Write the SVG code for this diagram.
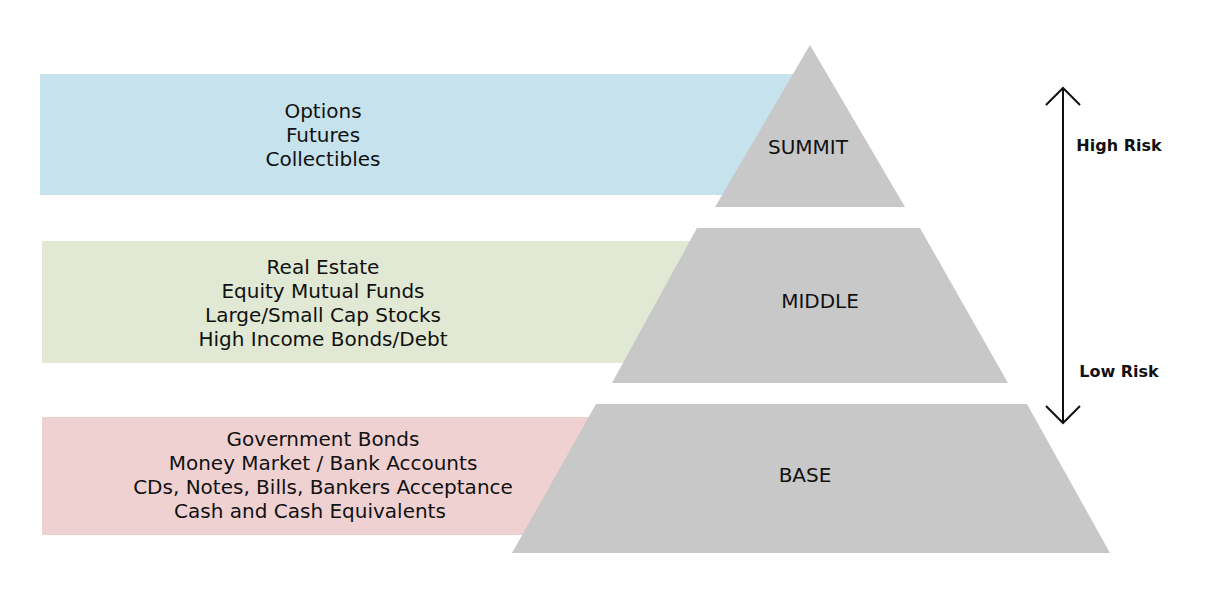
<svg xmlns="http://www.w3.org/2000/svg" width="1206" height="600" viewBox="0 0 1206 600">
<style>
.t{font-family:"DejaVu Sans","Liberation Sans",sans-serif;font-size:20px;fill:#111;text-anchor:middle}
.b{font-family:"DejaVu Sans","Liberation Sans",sans-serif;font-size:16px;font-weight:bold;fill:#111;text-anchor:middle}
.p{fill:#c8c8c8}
</style>
<rect width="1206" height="600" fill="#fff"/>
<g id="band-summit"><rect x="40" y="74" width="760" height="121" fill="#c6e2ec"/>
<text class="t" x="323" y="118">Options</text><text class="t" x="323" y="142">Futures</text><text class="t" x="323" y="166">Collectibles</text></g>
<g id="band-middle"><rect x="42" y="241" width="660" height="122" fill="#e1e8d3"/>
<text class="t" x="323" y="274">Real Estate</text><text class="t" x="323" y="298">Equity Mutual Funds</text><text class="t" x="323" y="322">Large/Small Cap Stocks</text><text class="t" x="323" y="346">High Income Bonds/Debt</text></g>
<g id="band-base"><rect x="42" y="417" width="560" height="118" fill="#f0d1d1"/>
<text class="t" x="323" y="446">Government Bonds</text><text class="t" x="323" y="470">Money Market / Bank Accounts</text><text class="t" x="323" y="494">CDs, Notes, Bills, Bankers Acceptance</text><text class="t" x="310" y="518">Cash and Cash Equivalents</text></g>
<g id="summit"><polygon class="p" points="810,45 905,207 715,207"/><text class="t" x="808" y="154">SUMMIT</text></g>
<g id="middle"><polygon class="p" points="697,228 920,228 1008,383 612,383"/><text class="t" x="820" y="308">MIDDLE</text></g>
<g id="base"><polygon class="p" points="596,404 1027,404 1110,553 512,553"/><text class="t" x="805" y="482">BASE</text></g>
<g id="connectors" stroke="#111" stroke-width="2" fill="none">
<line x1="1063" y1="88" x2="1063" y2="423"/>
<polyline points="1046,105 1063,88 1080,105"/>
<polyline points="1046,406 1063,423 1080,406"/>
</g>
<text class="b" x="1119" y="151">High Risk</text>
<text class="b" x="1119" y="377">Low Risk</text>
</svg>
